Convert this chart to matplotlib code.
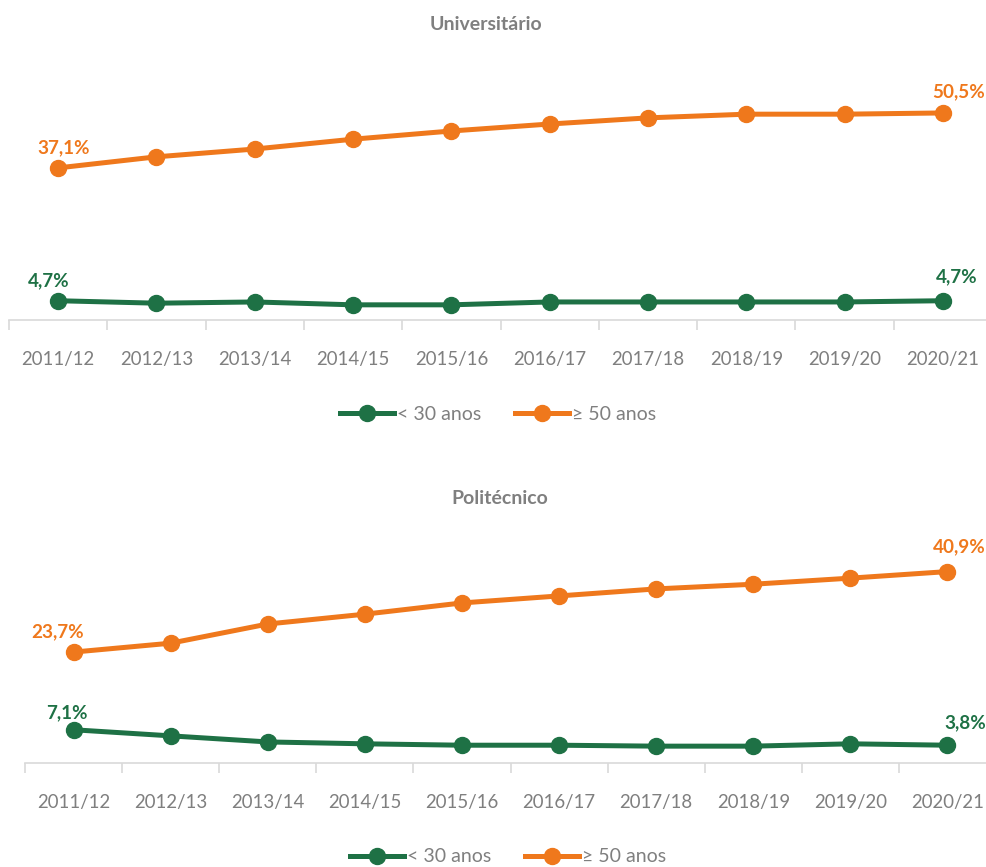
import matplotlib.pyplot as plt
from matplotlib.ticker import FixedLocator

plt.rcParams["font.family"] = ["Lato", "DejaVu Sans"]

years = ["2011/12", "2012/13", "2013/14", "2014/15", "2015/16",
         "2016/17", "2017/18", "2018/19", "2019/20", "2020/21"]

univ_young = [4.7, 4.1, 4.4, 3.7, 3.7, 4.4, 4.4, 4.4, 4.4, 4.7]
univ_old = [37.1, 39.8, 41.7, 44.1, 46.1, 47.8, 49.3, 50.2, 50.2, 50.5]
poli_young = [7.1, 5.8, 4.5, 4.1, 3.8, 3.8, 3.6, 3.6, 4.1, 3.8]
poli_old = [23.7, 25.6, 29.7, 31.8, 34.2, 35.7, 37.2, 38.2, 39.5, 40.9]

GREEN = "#1E7145"
ORANGE = "#EF781C"
GRAY = "#7F7F7F"
AXIS = "#D9D9D9"

fig = plt.figure(figsize=(9.86, 8.67), dpi=100)


def fmt(v):
    return f"{v:.1f}".replace(".", ",") + "%"


def draw_panel(ax, young, old, ymax, labels_off):
    x = range(len(years))
    ax.plot(x, young, "-o", color=GREEN, lw=3.6, ms=11.5, label="< 30 anos",
            clip_on=False, zorder=3)
    ax.plot(x, old, "-o", color=ORANGE, lw=3.6, ms=11.5, label="≥ 50 anos",
            clip_on=False, zorder=3)
    ax.set_xlim(-0.5, len(years) - 0.5)
    ax.set_ylim(0, ymax)
    for s in ["top", "right", "left"]:
        ax.spines[s].set_visible(False)
    ax.spines["bottom"].set_color(AXIS)
    ax.spines["bottom"].set_linewidth(1.2)
    ax.set_yticks([])
    ax.set_xticks(list(x))
    ax.set_xticklabels(years, fontsize=13.4, color=GRAY)
    ax.tick_params(axis="x", which="major", length=0, pad=22)
    ax.xaxis.set_minor_locator(FixedLocator([i - 0.5 for i in range(len(years) + 1)]))
    ax.tick_params(axis="x", which="minor", length=7, width=1.2, color=AXIS)

    series = [(young, GREEN), (old, ORANGE)]
    for (vals, col), offs in zip(series, labels_off):
        for idx, off in zip([0, len(vals) - 1], offs):
            ax.annotate(fmt(vals[idx]), (idx, vals[idx]), xytext=off,
                        textcoords="offset pixels", ha="center", va="center",
                        fontsize=13.6, fontweight="bold", color=col,
                        annotation_clip=False)


ax1 = fig.add_axes([9 / 986, (867 - 320) / 867, 983 / 986, 225.5 / 867])
draw_panel(ax1, univ_young, univ_old, 55,
           [[(-9, 20), (14, 24)], [(6, 20), (16, 21)]])

ax2 = fig.add_axes([25 / 986, (867 - 763) / 867, 971 / 986, 234 / 867])
draw_panel(ax2, poli_young, poli_old, 50,
           [[(-7, 17), (18, 22)], [(-16, 20), (12, 25)]])

fig.text(486 / 986, 1 - 25 / 867, "Universitário", ha="center", va="center",
         fontsize=14, fontweight="bold", color=GRAY)
fig.text(500 / 986, 1 - 498 / 867, "Politécnico", ha="center", va="center",
         fontsize=14, fontweight="bold", color=GRAY)

for ax, cy, cx in [(ax1, 414, 498), (ax2, 857, 508)]:
    fig.legend(*ax.get_legend_handles_labels(), loc="center",
               bbox_to_anchor=(cx / 986, 1 - cy / 867), ncol=2, frameon=False,
               fontsize=14, labelcolor=GRAY, handlelength=2.8,
               handletextpad=0.15, columnspacing=1.7, borderpad=0)

fig.savefig("out.png", dpi=100)
